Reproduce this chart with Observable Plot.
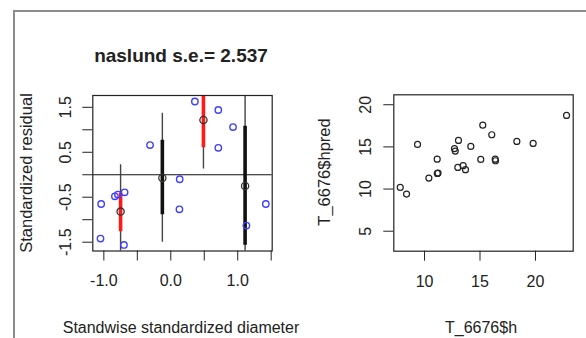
<!DOCTYPE html>
<html><head><meta charset="utf-8">
<script src="https://cdn.jsdelivr.net/npm/d3@7"></script>
<script src="https://cdn.jsdelivr.net/npm/@observablehq/plot@0.6"></script>
<style>
body{margin:0;background:#fff;}
#wrap{position:relative;width:586px;height:338px;overflow:hidden;font-family:"Liberation Sans",Arial,sans-serif;color:#222;background:#fff;}
#border{position:absolute;left:13px;top:10px;width:620px;height:400px;border-left:2px solid #8c8c8c;border-top:2px solid #8c8c8c;}
.p{position:absolute;top:0;}
#overlay{position:absolute;left:0;top:0;pointer-events:none;}
</style></head><body><div id="wrap"><div id="border"></div></div>
<script>
// ---- Left panel: standardized residuals vs standwise standardized diameter ----
const resDiam = [-1.04, -1.05, -0.835, -0.79, -0.69, -0.70, -0.31, 0.133, 0.129, 0.36, 0.71, 0.71, 0.93, 1.13, 1.42];
const resStd  = [-0.65, -1.42, -0.48, -0.44, -0.39, -1.56, 0.66, -0.10, -0.77, 1.63, 1.44, 0.60, 1.06, -1.13, -0.65];

// group summaries: mean, outer interval, inner interval
const grpDiam = [-0.75, -0.126, 0.488, 1.11];
const grpMean = [-0.82, -0.07, 1.22, -0.25];
const grpOuterLo = [-2.2, -1.50, 0.13, -2.2];
const grpOuterHi = [0.22, 1.37, 2.2, 2.2];
const grpInnerLo = [-1.27, -0.89, 0.60, -1.57];
const grpInnerHi = [-0.41, 0.77, 2.2, 1.08];

const leftXTicks = [-1.0, -0.5, 0, 0.5, 1.0, 1.5];
const leftYTicks = [-1.5, -1.0, -0.5, 0, 0.5, 1.0, 1.5];

// ---- Right panel: T_6676$hpred vs T_6676$h ----
const hObs  = [7.81, 8.38, 9.37, 10.39, 11.14, 11.15, 11.22, 12.70, 12.77, 13.06, 13.00, 13.48, 13.69, 14.17, 15.07, 15.25, 16.06, 16.37, 16.40, 18.32, 19.79, 22.80];
const hPred = [10.2, 9.41, 15.3, 11.3, 13.55, 11.85, 11.9, 14.8, 14.5, 15.77, 12.57, 12.77, 12.3, 15.06, 13.52, 17.58, 16.44, 13.55, 13.36, 15.65, 15.41, 18.73];

const rightXTicks = [10, 15, 20];
const rightYTicks = [5, 10, 15, 20];

const titleText = "naslund s.e.= 2.537";
const leftXLabel = "Standwise standardized diameter";
const leftYLabel = "Standardized residual";
const rightXLabel = "T_6676$h";
const rightYLabel = "T_6676$hpred";

const residuals = resDiam.map((x, i) => ({x, y: resStd[i]}));
const groups = grpDiam.map((x, i) => ({
  x, mean: grpMean[i], lo: grpOuterLo[i], hi: grpOuterHi[i],
  ilo: grpInnerLo[i], ihi: grpInnerHi[i]
}));
const hpts = hObs.map((x, i) => ({x, y: hPred[i]}));

const font = {fontFamily: '"Liberation Sans", Arial, sans-serif', fontSize: "16px", color: "#222", background: "transparent", overflow: "visible"};

const wrap = document.getElementById("wrap");

const left = Plot.plot({
  width: 290, height: 338,
  marginLeft: 92.3, marginRight: 18.3, marginTop: 95, marginBottom: 87.5,
  style: font,
  x: {domain: [-1.165, 1.515]},
  y: {domain: [-1.696, 1.763]},
  marks: [
    Plot.ruleY([0], {stroke: "#111", strokeWidth: 1.2}),
    Plot.ruleX(groups, {x: "x", y1: "lo", y2: "hi", stroke: "#444", strokeWidth: 1.4, clip: true}),
    Plot.ruleX(groups, {x: "x", y1: "ilo", y2: "ihi", strokeWidth: 3.6, clip: true,
      stroke: d => (d.ilo > 0 || d.ihi < 0) ? "#ff1a1a" : "#111"}),
    Plot.dot(groups, {x: "x", y: "mean", r: 3.6, stroke: "#333", strokeWidth: 1.3, fill: "none"}),
    Plot.dot(residuals, {x: "x", y: "y", r: 3.2, stroke: "#3f3fff", strokeWidth: 1.4, fill: "none"}),
    Plot.frame({stroke: "#222", strokeWidth: 1.2}),
    Plot.axisX({ticks: leftXTicks, tickSize: 10, tickPadding: 14, label: null,
      tickFormat: d => Number.isInteger(d) ? d.toFixed(1) : ""}),
    Plot.axisY({ticks: leftYTicks, tickSize: 10, tickPadding: 11.5, tickRotate: -90, label: null,
      tickFormat: d => Math.abs(d % 1) === 0.5 ? d.toFixed(1) : ""})
  ]
});
left.classList.add("p");
left.style.left = "0px";
wrap.appendChild(left);

const right = Plot.plot({
  width: 286, height: 338,
  marginLeft: 93.3, marginRight: 13.3, marginTop: 94.3, marginBottom: 87.3,
  style: font,
  x: {domain: [7.23, 23.4]},
  y: {domain: [2.63, 21.18]},
  marks: [
    Plot.dot(hpts, {x: "x", y: "y", r: 3, stroke: "#222", strokeWidth: 1.2, fill: "none"}),
    Plot.frame({stroke: "#222", strokeWidth: 1.2}),
    Plot.axisX({ticks: rightXTicks, tickSize: 10, tickPadding: 14, label: null, tickFormat: d => String(d)}),
    Plot.axisY({ticks: rightYTicks, tickSize: 10, tickPadding: 13, tickRotate: -90, label: null, tickFormat: d => String(d)})
  ]
});
right.classList.add("p");
right.style.left = "300px";
wrap.appendChild(right);

// Titles and axis labels
const ov = d3.select(wrap).append("svg").attr("id", "overlay")
  .attr("width", 586).attr("height", 338)
  .style("font-family", '"Liberation Sans", Arial, sans-serif').style("fill", "#222");
ov.append("text").attr("x", 181).attr("y", 61.5).attr("text-anchor", "middle")
  .style("font-weight", "bold").style("font-size", "19px").text(titleText);
ov.append("text").attr("x", 181).attr("y", 332.5).attr("text-anchor", "middle")
  .style("font-size", "16px").text(leftXLabel);
ov.append("text").attr("x", 481).attr("y", 332.5).attr("text-anchor", "middle")
  .style("font-size", "16px").text(rightXLabel);
ov.append("text").attr("transform", "translate(32,173) rotate(-90)").attr("text-anchor", "middle")
  .style("font-size", "16.5px").text(leftYLabel);
ov.append("text").attr("transform", "translate(330,172) rotate(-90)").attr("text-anchor", "middle")
  .style("font-size", "16.5px").text(rightYLabel);
</script>
</body></html>
